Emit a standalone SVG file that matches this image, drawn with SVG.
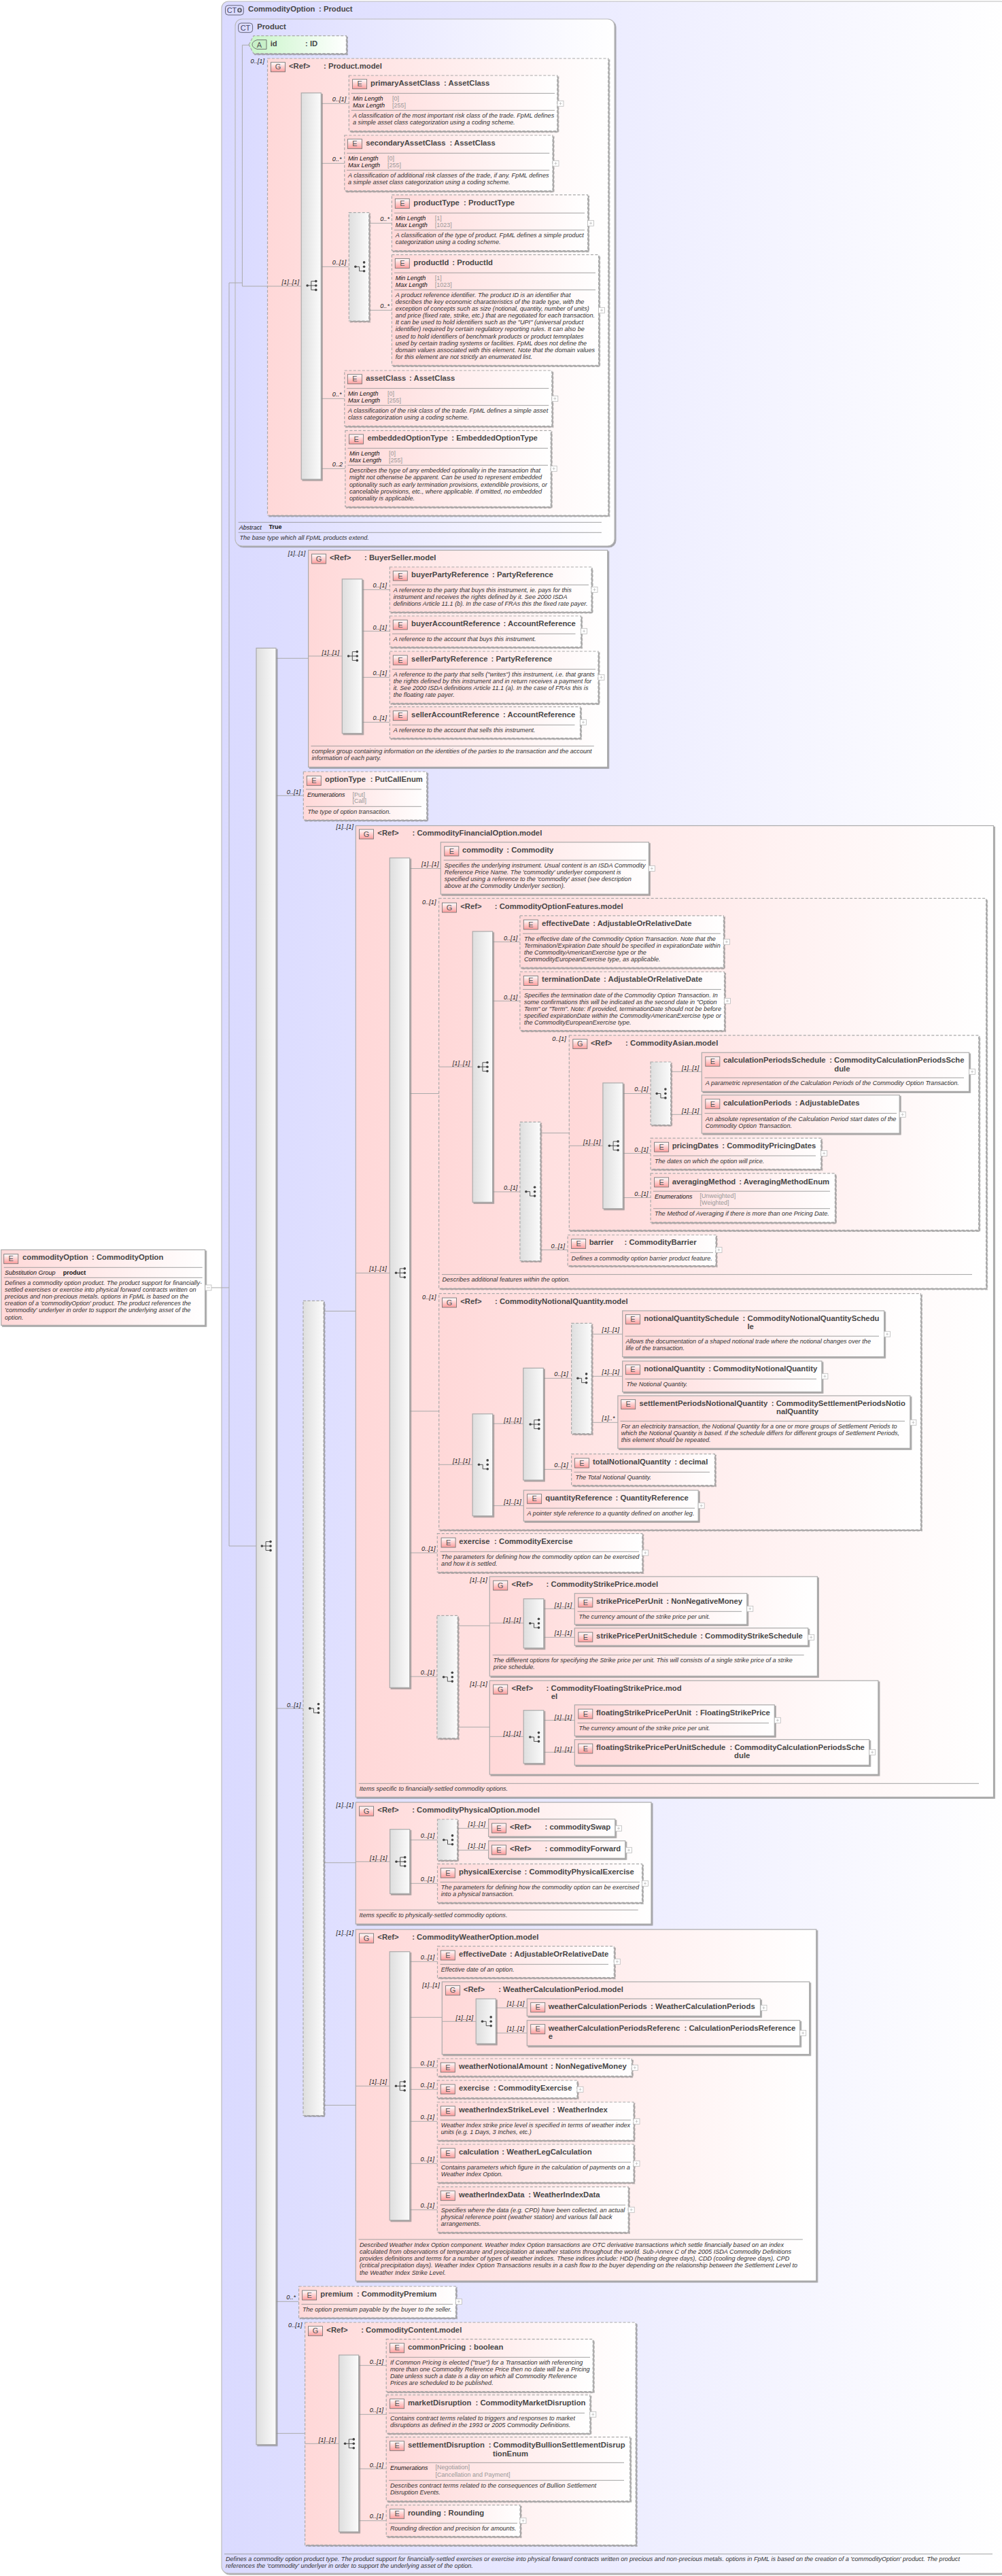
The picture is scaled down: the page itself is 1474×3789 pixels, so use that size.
<svg xmlns="http://www.w3.org/2000/svg" width="1474" height="3789" viewBox="0 0 1474 3789">
<style>
text{font-family:"Liberation Sans",Arial,sans-serif}
.t{font-size:11.3px;font-weight:700;fill:#484848}
.x{font-size:9.1px;font-style:italic;fill:#333}
.k{font-size:9px;font-style:italic;fill:#111}
.v{font-size:9px;fill:#999}
.bv{font-size:9px;font-weight:700;fill:#111}
.c{font-size:9.2px;font-style:italic;fill:#222}
.il{font-size:11px;fill:#555;text-anchor:middle}
.ct{font-size:11px;fill:#446;text-anchor:middle}
.b{fill:url(#pk);stroke:#aaa;stroke-width:1.2;filter:url(#sh)}
.d{fill:url(#pk);stroke:#aaa;stroke-width:1.2;stroke-dasharray:4 2.5;filter:url(#sh)}
.s{fill:url(#gr);stroke:#aaa;stroke-width:1.2;filter:url(#sh)}
.sd{fill:url(#gr);stroke:#aaa;stroke-width:1.2;stroke-dasharray:4 2.5;filter:url(#sh)}
.sep{fill:none;stroke:#999;stroke-width:.9}
.cn{fill:none;stroke:#aaa;stroke-width:1}
.ctb{fill:url(#bl);stroke:#bbb;stroke-width:1.2;filter:url(#sh)}
</style>
<defs>
<linearGradient id="pk"><stop offset="0" stop-color="#ffd8d8"/><stop offset="1" stop-color="#fff"/></linearGradient>
<linearGradient id="bl"><stop offset="0" stop-color="#dadaff"/><stop offset="1" stop-color="#fff"/></linearGradient>
<linearGradient id="gn"><stop offset="0" stop-color="#c8f5c8"/><stop offset="1" stop-color="#fff"/></linearGradient>
<linearGradient id="gr"><stop offset="0" stop-color="#dedede"/><stop offset="1" stop-color="#fbfbfb"/></linearGradient>
<linearGradient id="ig" x2="0" y2="1"><stop offset="0" stop-color="#fff"/><stop offset="1" stop-color="#ff9c9c"/></linearGradient>
<filter id="sh" x="-10%" y="-10%" width="125%" height="125%"><feDropShadow dx="1.8" dy="1.8" stdDeviation=".6" flood-color="#888" flood-opacity=".75"/></filter>
<rect id="ic" width="21" height="14" fill="url(#ig)" stroke="#777" stroke-width=".9"/>
<g id="plus"><rect width="9" height="8" fill="#fff" stroke="#bbb" stroke-width=".8"/><path d="M2.5 4H6.5M4.500 2V6" stroke="#bbb" stroke-width=".8"/></g>
<g id="seq" fill="none" stroke="#444" stroke-width=".9"><path d="M-5.700 0H0M0-6.400V6.400M0-6.400H7M0 0H7M0 6.400H7"/><g fill="#444" stroke="none"><circle cx="-5.700" r="1.800"/><circle cx="7" cy="-6.400" r="1.800"/><circle cx="7" r="1.800"/><circle cx="7" cy="6.400" r="1.800"/></g></g>
<g id="cho" fill="none" stroke="#444" stroke-width=".9"><path d="M-5.700 0H0V6.400H7"/><g fill="#444" stroke="none"><circle cx="-5.700" r="1.800"/><circle cx="7" cy="-6.400" r="1.800"/><circle cx="7" r="1.800"/><circle cx="7" cy="6.400" r="1.800"/></g></g>
</defs>
<g id="outer">
<rect class="ctb" x="326" y="2" width="1156" height="3783" rx="10"/>
<rect x="331.500" y="8" width="26.800" height="14" rx="4" fill="#dcdcff" stroke="#556" stroke-width=".9"/>
<text class="ct" x="341" y="19">CT</text><circle cx="352.500" cy="15" r="3.500" fill="#667"/><path d="M350.500 15H354.500M352.500 13V17" stroke="#fff" stroke-width=".8"/>
<text class="t" x="365" y="17">CommodityOption</text><text class="t" x="469" y="17">: Product</text>
<path class="sep" d="M330 3756.700H1460"/>
<text class="x" x="332" y="3766.700">Defines a commodity option product type. The product support for financially-settled exercises or exercise into physical forward contracts written on precious and non-precious metals. options in FpML is based on the creation of a 'commodityOption' product. The product</text>
<text class="x" x="332" y="3777">references the 'commodity' underlyer in order to support the underlying asset of the option.</text>
</g>
<g id="ct-product">
<rect class="ctb" x="346" y="28" width="558" height="775" rx="10"/>
<rect x="350.600" y="34" width="21" height="13.700" rx="4" fill="#dcdcff" stroke="#556" stroke-width=".9"/>
<text class="ct" x="361" y="45">CT</text>
<text class="t" x="378.200" y="43.300">Product</text>
<path class="sep" d="M350.600 768.300H884.900M350.600 783.300H884.900"/>
<text class="k" x="351.800" y="778.700">Abstract</text><text class="bv" x="395.400" y="778">True</text>
<text class="x" x="352.500" y="793.700">The base type which all FpML products extend.</text>
</g>
<g id="g-Product-model">
<rect class="d" x="393.500" y="86" width="501.300" height="672"/>
<use href="#ic" x="398.500" y="91.700"/><text class="il" x="409" y="102.400">G</text>
<text class="t" x="425" y="100.700">&lt;Ref&gt;</text><text class="t" x="476" y="100.700">: Product.model</text>
</g>
<g id="g-BuyerSeller-model">
<rect class="b" x="453.600" y="809.300" width="440.100" height="319"/>
<use href="#ic" x="458.600" y="815"/><text class="il" x="469" y="825.700">G</text>
<text class="t" x="485" y="823.700">&lt;Ref&gt;</text><text class="t" x="536" y="823.700">: BuyerSeller.model</text>
<path class="sep" d="M457.400 1097.300H873.800"/>
<text class="x" x="458.600" y="1107.700">complex group containing information on the identities of the parties to the transaction and the account</text>
<text class="x" x="458.600" y="1118">information of each party.</text>
</g>
<g id="g-CommodityFinancialOption-model">
<rect class="b" x="523.300" y="1214.500" width="938.200" height="1428.800"/>
<use href="#ic" x="528.500" y="1220"/><text class="il" x="539" y="1230.700">G</text>
<text class="t" x="555.300" y="1229">&lt;Ref&gt;</text><text class="t" x="606.500" y="1229">: CommodityFinancialOption.model</text>
<path class="sep" d="M527.700 2623.300H1440"/>
<text class="x" x="528.800" y="2633.700">Items specific to financially-settled commodity options.</text>
</g>
<g id="g-CommodityOptionFeatures-model">
<rect class="d" x="645.600" y="1321.400" width="805" height="573.600"/>
<use href="#ic" x="650.500" y="1328"/><text class="il" x="661" y="1338.700">G</text>
<text class="t" x="677.200" y="1336.600">&lt;Ref&gt;</text><text class="t" x="727.800" y="1336.600">: CommodityOptionFeatures.model</text>
<path class="sep" d="M650 1874.600H1430"/>
<text class="x" x="650.500" y="1885.300">Describes additional features within the option.</text>
</g>
<g id="g-CommodityAsian-model">
<rect class="d" x="837.300" y="1522.800" width="602.400" height="286.600"/>
<use href="#ic" x="842.800" y="1528.600"/><text class="il" x="853.300" y="1539.300">G</text>
<text class="t" x="868.900" y="1538">&lt;Ref&gt;</text><text class="t" x="920.100" y="1538">: CommodityAsian.model</text>
</g>
<g id="g-CommodityNotionalQuantity-model">
<rect class="d" x="645.700" y="1902.700" width="708.700" height="347.300"/>
<use href="#ic" x="650.500" y="1909"/><text class="il" x="661" y="1919.700">G</text>
<text class="t" x="677.200" y="1917.700">&lt;Ref&gt;</text><text class="t" x="728" y="1917.700">: CommodityNotionalQuantity.model</text>
</g>
<g id="g-CommodityStrikePrice-model">
<rect class="b" x="720.300" y="2319" width="482.100" height="146.300"/>
<use href="#ic" x="725.700" y="2325"/><text class="il" x="736.200" y="2335.700">G</text>
<text class="t" x="752.600" y="2334">&lt;Ref&gt;</text><text class="t" x="803.600" y="2334">: CommodityStrikePrice.model</text>
<path class="sep" d="M724.600 2434.300H1182.700"/>
<text class="x" x="725.700" y="2445">The different options for specifying the Strike price per unit. This will consists of a single strike price of a strike</text>
<text class="x" x="725.700" y="2455">price schedule.</text>
</g>
<g id="g-CommodityFloatingStrikePrice-model">
<rect class="b" x="720.300" y="2472" width="571.600" height="138"/>
<use href="#ic" x="725.700" y="2478"/><text class="il" x="736.200" y="2488.700">G</text>
<text class="t" x="752.600" y="2487">&lt;Ref&gt;</text><text class="t" x="803.600" y="2487">: CommodityFloatingStrikePrice.mod</text>
<text class="t" x="810.800" y="2499.300">el</text>
</g>
<g id="g-CommodityPhysicalOption-model">
<rect class="b" x="523.300" y="2651" width="434.700" height="179"/>
<use href="#ic" x="528.600" y="2657"/><text class="il" x="539.100" y="2667.700">G</text>
<text class="t" x="555.300" y="2665.700">&lt;Ref&gt;</text><text class="t" x="606.200" y="2665.700">: CommodityPhysicalOption.model</text>
<path class="sep" d="M527.600 2809.300H938.700"/>
<text class="x" x="528.600" y="2820">Items specific to physically-settled commodity options.</text>
</g>
<g id="g-CommodityWeatherOption-model">
<rect class="b" x="523.300" y="2838" width="677.500" height="517"/>
<use href="#ic" x="528.600" y="2844"/><text class="il" x="539.100" y="2854.700">G</text>
<text class="t" x="555.300" y="2852.700">&lt;Ref&gt;</text><text class="t" x="606.200" y="2852.700">: CommodityWeatherOption.model</text>
<path class="sep" d="M527.500 3294H1180.900"/>
<text class="x" x="529" y="3305">Described Weather Index Option component. Weather Index Option transactions are OTC derivative transactions which settle financially based on an index</text>
<text class="x" x="529" y="3315">calculated from observations of temperature and precipitation at weather stations throughout the world. Sub-Annex C of the 2005 ISDA Commodity Definitions</text>
<text class="x" x="529" y="3325.300">provides definitions and terms for a number of types of weather indices. These indices include: HDD (heating degree days), CDD (cooling degree days), CPD</text>
<text class="x" x="529" y="3335.400">(critical precipitation days). Weather Index Option Transactions results in a cash flow to the buyer depending on the relationship between the Settlement Level to</text>
<text class="x" x="529" y="3345.500">the Weather Index Strike Level.</text>
</g>
<g id="g-WeatherCalculationPeriod-model">
<rect class="b" x="650.300" y="2915" width="540.400" height="106.700"/>
<use href="#ic" x="655.600" y="2920.700"/><text class="il" x="666.100" y="2931.400">G</text>
<text class="t" x="681.800" y="2929.700">&lt;Ref&gt;</text><text class="t" x="733.200" y="2929.700">: WeatherCalculationPeriod.model</text>
</g>
<g id="g-CommodityContent-model">
<rect class="d" x="448.600" y="3416" width="486.600" height="327.300"/>
<use href="#ic" x="453.500" y="3421.700"/><text class="il" x="464" y="3432.400">G</text>
<text class="t" x="480.300" y="3431">&lt;Ref&gt;</text><text class="t" x="531.200" y="3431">: CommodityContent.model</text>
</g>
<g id="connectors">
<path class="cn" d="M301.700 1894H337M337 416V2274H377M337 416H356.400M356.400 66.300V421M356.400 66.300H366M356.400 421H443.200
M472.300 152.300H513.300M472.300 240.300H506.800M472.300 392.300H513.300M472.300 586.300H506.800M472.300 689.300H507.900M542.700 328.300H576.400M542.700 456.300H576.400
M405.700 968.300H453.600M453.600 965H503.300M532.800 867.300H573.400M532.800 928.300H573.400M532.800 996.300H573.400M532.800 1062.300H573.400
M405.700 1170.300H446.300M405.700 2512.900H446M405.700 3385.300H439.600M405 3579.300H448.600M448.600 3594.300H498.600M527.600 3479.300H568.200M527.600 3551.300H568.200M527.600 3631.300H568.200M527.600 3707.700H568.200
M476 1928.500H523.300M476 2739.800H523.300M476 3096.500H523.300
M523.300 1872.500H573.300M602.700 1277.500H648.300M602.700 1608.500H645.600M602.700 2075.700H645.700M602.700 2284H643.300M602.700 2466H642.900
M645.600 1569.200H695.200M724.600 1385.300H764.900M724.600 1472.300H764.900M724.600 1753H764.900M794.800 1666.500H837.300M794.800 1838.400H835.100M837.300 1685.300H886.900M916.300 1608.500H957.100M916.300 1696.400H957.100M916.300 1761.600H957.100M986.600 1576.300H1032.300M986.600 1639.300H1032.300
M645.700 2154.300H695.100M724.700 2094H769.800M724.700 2214.700H770.300M799.400 2027.300H840.600M799.400 2161.300H840.600M870.100 1962.300H915.700M870.100 2024.300H915.700M870.100 2092.300H908.900
M673.100 2391.300H720.300M673.100 2540.300H720.300M720.300 2387.300H770.200M720.300 2554.300H770.200M799.800 2366.300H845.300M799.800 2408.300H845.300M799.800 2530.300H845.300M799.800 2577.300H845.300
M523.300 2738.300H573.700M602.800 2706.300H643.500M602.800 2770.300H643.500M672.600 2689.300H718.600M672.600 2721.300H718.600
M523.300 3068.300H573.200M602.800 2885.300H643.500M602.800 2967.300H650.300M602.800 3041.300H643.300M602.800 3073.300H643.300M602.800 3120.300H643.300M602.800 3182.300H643.300M602.800 3250.300H643.300M650.300 2973.300H700.200M729.300 2953.300H775.300M729.300 2990.300H775.300"/>
<text class="c" x="368.600" y="92.700">0..[1]</text>
<text class="c" x="414.500" y="418">[1]..[1]</text>
<text class="c" x="488.800" y="149">0..[1]</text>
<text class="c" x="488.800" y="237">0..*</text>
<text class="c" x="488.800" y="389">0..[1]</text>
<text class="c" x="559.200" y="325">0..*</text>
<text class="c" x="559.200" y="453.300">0..*</text>
<text class="c" x="488.800" y="583">0..*</text>
<text class="c" x="488.800" y="686">0..2</text>
<text class="c" x="423.700" y="816.700">[1]..[1]</text>
<text class="c" x="473.500" y="962.700">[1]..[1]</text>
<text class="c" x="548.500" y="864">0..[1]</text>
<text class="c" x="548.500" y="926">0..[1]</text>
<text class="c" x="548.500" y="993">0..[1]</text>
<text class="c" x="548.500" y="1059.300">0..[1]</text>
<text class="c" x="421.800" y="1167.700">0..[1]</text>
<text class="c" x="494.500" y="1219.300">[1]..[1]</text>
<text class="c" x="422" y="2510.500">0..[1]</text>
<text class="c" x="543.300" y="1869.300">[1]..[1]</text>
<text class="c" x="620" y="1273.700">[1]..[1]</text>
<text class="c" x="621" y="1329.500">0..[1]</text>
<text class="c" x="665.800" y="1567">[1]..[1]</text>
<text class="c" x="740.900" y="1382.600">0..[1]</text>
<text class="c" x="740.900" y="1469.600">0..[1]</text>
<text class="c" x="740.900" y="1750">0..[1]</text>
<text class="c" x="812.300" y="1530.800">0..[1]</text>
<text class="c" x="858" y="1682.600">[1]..[1]</text>
<text class="c" x="933.200" y="1605.400">0..[1]</text>
<text class="c" x="1002.900" y="1573.700">[1]..[1]</text>
<text class="c" x="1002.900" y="1636.600">[1]..[1]</text>
<text class="c" x="933.200" y="1693.800">0..[1]</text>
<text class="c" x="933.200" y="1759">0..[1]</text>
<text class="c" x="810.600" y="1835.700">0..[1]</text>
<text class="c" x="621" y="1910.700">0..[1]</text>
<text class="c" x="666" y="2152.300">[1]..[1]</text>
<text class="c" x="741.200" y="2092">[1]..[1]</text>
<text class="c" x="815.300" y="2024">0..[1]</text>
<text class="c" x="885.600" y="1959.300">[1]..[1]</text>
<text class="c" x="885.600" y="2021.300">[1]..[1]</text>
<text class="c" x="885.600" y="2089.300">[1]..*</text>
<text class="c" x="815.300" y="2158.300">0..[1]</text>
<text class="c" x="741.200" y="2212">[1]..[1]</text>
<text class="c" x="620" y="2281">0..[1]</text>
<text class="c" x="618.800" y="2463.300">0..[1]</text>
<text class="c" x="691.200" y="2327">[1]..[1]</text>
<text class="c" x="740.600" y="2385.700">[1]..[1]</text>
<text class="c" x="815.700" y="2364">[1]..[1]</text>
<text class="c" x="815.700" y="2405.300">[1]..[1]</text>
<text class="c" x="691.200" y="2480">[1]..[1]</text>
<text class="c" x="740.600" y="2552.700">[1]..[1]</text>
<text class="c" x="815.700" y="2528.700">[1]..[1]</text>
<text class="c" x="815.700" y="2575.700">[1]..[1]</text>
<text class="c" x="494.500" y="2658.300">[1]..[1]</text>
<text class="c" x="544.100" y="2736">[1]..[1]</text>
<text class="c" x="618.800" y="2703.300">0..[1]</text>
<text class="c" x="688.600" y="2686.300">[1]..[1]</text>
<text class="c" x="688.600" y="2718.300">[1]..[1]</text>
<text class="c" x="618.800" y="2767.300">0..[1]</text>
<text class="c" x="494.500" y="2845.700">[1]..[1]</text>
<text class="c" x="543.600" y="3065">[1]..[1]</text>
<text class="c" x="618.800" y="2882.300">0..[1]</text>
<text class="c" x="621.200" y="2922.700">[1]..[1]</text>
<text class="c" x="670.600" y="2970.700">[1]..[1]</text>
<text class="c" x="745.800" y="2950">[1]..[1]</text>
<text class="c" x="745.800" y="2987.300">[1]..[1]</text>
<text class="c" x="618.500" y="3038.300">0..[1]</text>
<text class="c" x="618.500" y="3070">0..[1]</text>
<text class="c" x="618.500" y="3117.300">0..[1]</text>
<text class="c" x="618.500" y="3179">0..[1]</text>
<text class="c" x="618.500" y="3247">0..[1]</text>
<text class="c" x="421.300" y="3382.300">0..*</text>
<text class="c" x="424" y="3423.300">0..[1]</text>
<text class="c" x="468.700" y="3591.700">[1]..[1]</text>
<text class="c" x="543.700" y="3476.700">0..[1]</text>
<text class="c" x="543.700" y="3548.300">0..[1]</text>
<text class="c" x="543.700" y="3628.700">0..[1]</text>
<text class="c" x="543.700" y="3704.300">0..[1]</text>
</g>
<g id="compositors">
<rect class="s" x="377" y="953.300" width="29" height="2642.400"/><use href="#seq" x="391" y="2274"/>
<rect class="sd" x="446" y="1913.400" width="30" height="1198.100"/><use href="#cho" x="461.500" y="2512.900"/>
<rect class="s" x="443.200" y="136.700" width="29.100" height="568.300"/><use href="#seq" x="457.800" y="420"/>
<rect class="sd" x="513.300" y="312.700" width="29.400" height="159.300"/><use href="#cho" x="528.600" y="392.300"/>
<rect class="s" x="503.300" y="851.700" width="29.500" height="227"/><use href="#seq" x="518.300" y="965"/>
<rect class="s" x="573.300" y="1261.900" width="29.400" height="1220.400"/><use href="#seq" x="588.300" y="1872.300"/>
<rect class="s" x="695.200" y="1370" width="29.400" height="398.300"/><use href="#seq" x="709.900" y="1569.200"/>
<rect class="sd" x="764.900" y="1650.400" width="29.900" height="204.100"/><use href="#cho" x="779.600" y="1752.700"/>
<rect class="s" x="886.900" y="1592.900" width="29.400" height="184.800"/><use href="#seq" x="902.100" y="1685.300"/>
<rect class="sd" x="957.100" y="1562" width="29.500" height="92.500"/><use href="#cho" x="971.900" y="1608.500"/>
<rect class="s" x="695.100" y="2079.700" width="29.600" height="150"/><use href="#cho" x="710.200" y="2154.300"/>
<rect class="s" x="769.800" y="2012.300" width="29.600" height="164.700"/><use href="#seq" x="785.800" y="2095"/>
<rect class="sd" x="840.600" y="1946.300" width="29.500" height="162.400"/><use href="#cho" x="855.600" y="2027.300"/>
<rect class="sd" x="642.900" y="2376.300" width="30.200" height="180.400"/><use href="#cho" x="658.300" y="2466.700"/>
<rect class="s" x="770.200" y="2351.700" width="29.600" height="72.300"/><use href="#cho" x="785.500" y="2387.700"/>
<rect class="s" x="770.200" y="2515.700" width="29.600" height="78"/><use href="#cho" x="785.500" y="2555"/>
<rect class="s" x="573.700" y="2690.700" width="29.100" height="94.600"/><use href="#seq" x="588.700" y="2738.300"/>
<rect class="sd" x="643.500" y="2676" width="29.100" height="60"/><use href="#cho" x="658.500" y="2706.300"/>
<rect class="s" x="573.200" y="2870.700" width="29.600" height="395"/><use href="#seq" x="588.200" y="3068.300"/>
<rect class="s" x="700.200" y="2940" width="29.100" height="66"/><use href="#cho" x="715.200" y="2973.300"/>
<rect class="s" x="498.600" y="3464" width="29" height="260"/><use href="#seq" x="513.300" y="3594.300"/>
</g>
<g id="a-id">
<path d="M366 65.700L373 52.700H509.400V78.700H373Z" fill="url(#gn)" stroke="#aaa" stroke-width="1.200" stroke-dasharray="4 2.500" filter="url(#sh)"/>
<path d="M392 58.700V72.300H378Q371 70 371 65.500Q371 61 378 58.700Z" fill="#c8f0c8" stroke="#666" stroke-width=".9"/>
<text class="il" x="381.500" y="69.700">A</text>
<text class="t" x="397.700" y="67.700">id</text><text class="t" x="449" y="67.700">: ID</text>
</g>
<g id="e-commodityOption">
<rect class="b" x="1.700" y="1838.300" width="300" height="111"/>
<use href="#ic" x="5.700" y="1844.700"/><text class="il" x="16.200" y="1855.400">E</text>
<text class="t" x="33" y="1853">commodityOption</text><text class="t" x="135" y="1853">: CommodityOption</text>
<path class="sep" d="M5.700 1864.300H297.700M5.700 1879.300H297.700"/>
<text class="k" x="7" y="1875">Substitution Group</text><text class="bv" x="92.700" y="1874.500">product</text>
<text class="x" x="7" y="1890">Defines a commodity option product. The product support for financially-</text>
<text class="x" x="7" y="1900">settled exercises or exercise into physical forward contracts written on</text>
<text class="x" x="7" y="1910">precious and non-precious metals. options in FpML is based on the</text>
<text class="x" x="7" y="1920">creation of a 'commodityOption' product. The product references the</text>
<text class="x" x="7" y="1930.300">'commodity' underlyer in order to support the underlying asset of the</text>
<text class="x" x="7" y="1940.500">option.</text>
<rect x="302" y="1890" width="9" height="8" fill="#fff" stroke="#bbb" stroke-width=".8"/><path d="M304 1894H309" stroke="#bbb" stroke-width=".8"/>
</g>
<g id="e-primaryAssetClass">
<rect class="d" x="513.300" y="111" width="306.500" height="81.700"/>
<use href="#ic" x="518.600" y="116.700"/><text class="il" x="529.100" y="127.400">E</text>
<text class="t" x="545" y="126">primaryAssetClass</text><text class="t" x="653" y="126">: AssetClass</text>
<path class="sep" d="M516.700 137.300H816M516.700 162.300H816"/>
<text class="k" x="519" y="148">Min Length</text><text class="v" x="577" y="148">[0]</text>
<text class="k" x="519" y="158">Max Length</text><text class="v" x="577" y="158">[255]</text>
<text class="x" x="519" y="172.700">A classification of the most important risk class of the trade. FpML defines</text>
<text class="x" x="519" y="183">a simple asset class categorization using a coding scheme.</text>
<use href="#plus" x="820" y="148.300"/>
</g>
<g id="e-secondaryAssetClass">
<rect class="d" x="506.800" y="199" width="306.200" height="81.700"/>
<use href="#ic" x="511.400" y="204.700"/><text class="il" x="521.900" y="215.400">E</text>
<text class="t" x="538.200" y="214">secondaryAssetClass</text><text class="t" x="661.500" y="214">: AssetClass</text>
<path class="sep" d="M510 225.300H808.300M510 250.300H808.300"/>
<text class="k" x="512" y="236">Min Length</text><text class="v" x="570" y="236">[0]</text>
<text class="k" x="512" y="246">Max Length</text><text class="v" x="570" y="246">[255]</text>
<text class="x" x="512" y="260.700">A classification of additional risk classes of the trade, if any. FpML defines</text>
<text class="x" x="512" y="271">a simple asset class categorization using a coding scheme.</text>
<use href="#plus" x="813" y="236.300"/>
</g>
<g id="e-productType">
<rect class="d" x="576.400" y="286.700" width="288.200" height="82"/>
<use href="#ic" x="581.300" y="292.400"/><text class="il" x="591.800" y="303.100">E</text>
<text class="t" x="608.300" y="302">productType</text><text class="t" x="682" y="302">: ProductType</text>
<path class="sep" d="M580 313.300H860M580 338.300H860"/>
<text class="k" x="581.800" y="324">Min Length</text><text class="v" x="639.700" y="324">[1]</text>
<text class="k" x="581.800" y="334">Max Length</text><text class="v" x="639.700" y="334">[1023]</text>
<text class="x" x="581.800" y="348.700">A classification of the type of product. FpML defines a simple product</text>
<text class="x" x="581.800" y="359">categorization using a coding scheme.</text>
<use href="#plus" x="864.600" y="324.300"/>
</g>
<g id="e-productId">
<rect class="d" x="576.400" y="374.700" width="304.200" height="162.600"/>
<use href="#ic" x="581.300" y="380.400"/><text class="il" x="591.800" y="391.100">E</text>
<text class="t" x="608.300" y="390">productId</text><text class="t" x="665.300" y="390">: ProductId</text>
<path class="sep" d="M580 401.300H876M580 426.300H876"/>
<text class="k" x="581.800" y="412">Min Length</text><text class="v" x="639.700" y="412">[1]</text>
<text class="k" x="581.800" y="422">Max Length</text><text class="v" x="639.700" y="422">[1023]</text>
<text class="x" x="581.800" y="436.700">A product reference identifier. The product ID is an identifier that</text>
<text class="x" x="581.800" y="446.800">describes the key economic characteristics of the trade type, with the</text>
<text class="x" x="581.800" y="457">exception of concepts such as size (notional, quantity, number of units)</text>
<text class="x" x="581.800" y="467">and price (fixed rate, strike, etc.) that are negotiated for each transaction.</text>
<text class="x" x="581.800" y="477.200">It can be used to hold identifiers such as the "UPI" (universal product</text>
<text class="x" x="581.800" y="487.300">identifier) required by certain regulatory reporting rules. It can also be</text>
<text class="x" x="581.800" y="497.500">used to hold identifiers of benchmark products or product temnplates</text>
<text class="x" x="581.800" y="507.600">used by certain trading systems or facilities. FpML does not define the</text>
<text class="x" x="581.800" y="517.800">domain values associated with this element. Note that the domain values</text>
<text class="x" x="581.800" y="527.900">for this element are not strictly an enumerated list.</text>
<use href="#plus" x="880.600" y="452.300"/>
</g>
<g id="e-assetClass">
<rect class="d" x="506.800" y="545" width="305" height="81.700"/>
<use href="#ic" x="511.400" y="550.700"/><text class="il" x="521.900" y="561.400">E</text>
<text class="t" x="538.200" y="560">assetClass</text><text class="t" x="602" y="560">: AssetClass</text>
<path class="sep" d="M510 571.300H807.300M510 596.300H807.300"/>
<text class="k" x="512" y="582">Min Length</text><text class="v" x="570" y="582">[0]</text>
<text class="k" x="512" y="592">Max Length</text><text class="v" x="570" y="592">[255]</text>
<text class="x" x="512" y="606.700">A classification of the risk class of the trade. FpML defines a simple asset</text>
<text class="x" x="512" y="617">class categorization using a coding scheme.</text>
<use href="#plus" x="811.800" y="582.300"/>
</g>
<g id="e-embeddedOptionType">
<rect class="d" x="507.900" y="633.300" width="302.300" height="112"/>
<use href="#ic" x="513.600" y="639"/><text class="il" x="524.100" y="649.700">E</text>
<text class="t" x="540.400" y="648">embeddedOptionType</text><text class="t" x="664.300" y="648">: EmbeddedOptionType</text>
<path class="sep" d="M511.500 659.300H806M511.500 684.300H806"/>
<text class="k" x="514" y="670">Min Length</text><text class="v" x="572" y="670">[0]</text>
<text class="k" x="514" y="680">Max Length</text><text class="v" x="572" y="680">[255]</text>
<text class="x" x="514" y="695.300">Describes the type of any embedded optionality in the transaction that</text>
<text class="x" x="514" y="705.400">might not otherwise be apparent. Can be used to represent embedded</text>
<text class="x" x="514" y="715.500">optionality such as early termination provisions, extendible provisions, or</text>
<text class="x" x="514" y="725.600">cancelable provisions, etc., where applicable. If omitted, no embedded</text>
<text class="x" x="514" y="735.700">optionality is applicable.</text>
<use href="#plus" x="810.200" y="685.300"/>
</g>
<g id="e-buyerPartyReference">
<rect class="d" x="573.400" y="834" width="296.600" height="66"/>
<use href="#ic" x="578.300" y="840"/><text class="il" x="588.800" y="850.700">E</text>
<text class="t" x="605.100" y="848.700">buyerPartyReference</text><text class="t" x="724" y="848.700">: PartyReference</text>
<path class="sep" d="M577 860.300H866"/>
<text class="x" x="578.700" y="871">A reference to the party that buys this instrument, ie. pays for this</text>
<text class="x" x="578.700" y="881">instrument and receives the rights defined by it. See 2000 ISDA</text>
<text class="x" x="578.700" y="891">definitions Article 11.1 (b). In the case of FRAs this the fixed rate payer.</text>
<use href="#plus" x="870" y="863.300"/>
</g>
<g id="e-buyerAccountReference">
<rect class="d" x="573.400" y="906" width="281.200" height="45.700"/>
<use href="#ic" x="578.300" y="912"/><text class="il" x="588.800" y="922.700">E</text>
<text class="t" x="605.100" y="921">buyerAccountReference</text><text class="t" x="740.600" y="921">: AccountReference</text>
<path class="sep" d="M577 932.300H846.500"/>
<text class="x" x="578.700" y="942.700">A reference to the account that buys this instrument.</text>
<use href="#plus" x="854.600" y="924.300"/>
</g>
<g id="e-sellerPartyReference">
<rect class="d" x="573.400" y="958" width="306.600" height="76.300"/>
<use href="#ic" x="578.300" y="964"/><text class="il" x="588.800" y="974.700">E</text>
<text class="t" x="605.100" y="972.700">sellerPartyReference</text><text class="t" x="722.600" y="972.700">: PartyReference</text>
<path class="sep" d="M577 984.300H876"/>
<text class="x" x="578.700" y="995">A reference to the party that sells ("writes") this instrument, i.e. that grants</text>
<text class="x" x="578.700" y="1005">the rights defined by this instrument and in return receives a payment for</text>
<text class="x" x="578.700" y="1015.300">it. See 2000 ISDA definitions Article 11.1 (a). In the case of FRAs this is</text>
<text class="x" x="578.700" y="1025.400">the floating rate payer.</text>
<use href="#plus" x="880" y="992.300"/>
</g>
<g id="e-sellerAccountReference">
<rect class="d" x="573.400" y="1039.700" width="280.100" height="46"/>
<use href="#ic" x="578.300" y="1045.700"/><text class="il" x="588.800" y="1056.400">E</text>
<text class="t" x="605.100" y="1054.700">sellerAccountReference</text><text class="t" x="740" y="1054.700">: AccountReference</text>
<path class="sep" d="M577 1066.300H845.500"/>
<text class="x" x="578.700" y="1076.700">A reference to the account that sells this instrument.</text>
<use href="#plus" x="853.500" y="1058.300"/>
</g>
<g id="e-optionType">
<rect class="d" x="446.300" y="1135" width="181.400" height="71"/>
<use href="#ic" x="451.300" y="1141.300"/><text class="il" x="461.800" y="1152">E</text>
<text class="t" x="478" y="1150">optionType</text><text class="t" x="544.700" y="1150">: PutCallEnum</text>
<path class="sep" d="M450 1161H620M450 1186.300H620"/>
<text class="k" x="452" y="1172">Enumerations</text><text class="v" x="518.600" y="1171.500">[Put]</text><text class="v" x="518.600" y="1181.300">[Call]</text>
<text class="x" x="452.400" y="1196.700">The type of option transaction.</text>
</g>
<g id="e-commodity">
<rect class="b" x="648.300" y="1238.800" width="306.100" height="76.400"/>
<use href="#ic" x="653.800" y="1245"/><text class="il" x="664.300" y="1255.700">E</text>
<text class="t" x="680" y="1254">commodity</text><text class="t" x="745.300" y="1254">: Commodity</text>
<path class="sep" d="M652.700 1265.200H950.600"/>
<text class="x" x="653.800" y="1275.900">Specifies the underlying instrument. Usual content is an ISDA Commodity</text>
<text class="x" x="653.800" y="1286">Reference Price Name. The 'commodity' underlyer component is</text>
<text class="x" x="653.800" y="1296.100">specified using a reference to the 'commodity' asset (see description</text>
<text class="x" x="653.800" y="1306.200">above at the Commodity Underlyer section).</text>
<use href="#plus" x="954.400" y="1273.500"/>
</g>
<g id="e-effectiveDate">
<rect class="d" x="764.900" y="1346.900" width="299.500" height="76.300"/>
<use href="#ic" x="770.300" y="1353"/><text class="il" x="780.800" y="1363.700">E</text>
<text class="t" x="797" y="1362">effectiveDate</text><text class="t" x="872.200" y="1362">: AdjustableOrRelativeDate</text>
<path class="sep" d="M769 1373.200H1060"/>
<text class="x" x="770.900" y="1384">The effective date of the Commodity Option Transaction. Note that the</text>
<text class="x" x="770.900" y="1394.100">Termination/Expiration Date should be specified in expirationDate within</text>
<text class="x" x="770.900" y="1404.300">the CommodityAmericanExercise type or the</text>
<text class="x" x="770.900" y="1414.400">CommodityEuropeanExercise type, as applicable.</text>
<use href="#plus" x="1064.400" y="1381.300"/>
</g>
<g id="e-terminationDate">
<rect class="d" x="764.900" y="1429.500" width="300.600" height="86.100"/>
<use href="#ic" x="770.300" y="1435.500"/><text class="il" x="780.800" y="1446.200">E</text>
<text class="t" x="797" y="1444.200">terminationDate</text><text class="t" x="888" y="1444.200">: AdjustableOrRelativeDate</text>
<path class="sep" d="M769 1455.400H1061"/>
<text class="x" x="770.900" y="1466.500">Specifies the termination date of the Commodity Option Transaction. In</text>
<text class="x" x="770.900" y="1476.600">some confirmations this will be indicated as the second date in "Option</text>
<text class="x" x="770.900" y="1486.700">Term" or "Term". Note: If provided, terminationDate should not be before</text>
<text class="x" x="770.900" y="1496.800">specified expirationDate within the CommodityAmericanExercise type or</text>
<text class="x" x="770.900" y="1506.900">the CommodityEuropeanExercise type.</text>
<use href="#plus" x="1065.500" y="1468.300"/>
</g>
<g id="e-calculationPeriodsSchedule">
<rect class="b" x="1032.300" y="1548.200" width="393.300" height="57.200"/>
<use href="#ic" x="1037.800" y="1554.300"/><text class="il" x="1048.300" y="1565">E</text>
<text class="t" x="1063.900" y="1563.400">calculationPeriodsSchedule</text><text class="t" x="1220.200" y="1563.400">: CommodityCalculationPeriodsSche</text>
<text class="t" x="1227.300" y="1575.900">dule</text>
<path class="sep" d="M1036.500 1585.300H1418"/>
<text class="x" x="1037.800" y="1596.400">A parametric representation of the Calculation Periods of the Commodity Option Transaction.</text>
<use href="#plus" x="1425.600" y="1572.300"/>
</g>
<g id="e-calculationPeriods">
<rect class="b" x="1032.300" y="1610.700" width="290.900" height="56.300"/>
<use href="#ic" x="1037.800" y="1616.800"/><text class="il" x="1048.300" y="1627.500">E</text>
<text class="t" x="1063.900" y="1626.300">calculationPeriods</text><text class="t" x="1169.600" y="1626.300">: AdjustableDates</text>
<path class="sep" d="M1036.500 1637.500H1319"/>
<text class="x" x="1037.800" y="1648.700">An absolute representation of the Calculation Period start dates of the</text>
<text class="x" x="1037.800" y="1658.800">Commodity Option Transaction.</text>
<use href="#plus" x="1323.200" y="1635.300"/>
</g>
<g id="e-pricingDates">
<rect class="d" x="957.100" y="1674.100" width="250.600" height="45.500"/>
<use href="#ic" x="962.600" y="1680.200"/><text class="il" x="973.100" y="1690.900">E</text>
<text class="t" x="988.700" y="1689.300">pricingDates</text><text class="t" x="1062.300" y="1689.300">: CommodityPricingDates</text>
<path class="sep" d="M961 1700H1200"/>
<text class="x" x="963" y="1711.200">The dates on which the option will price.</text>
<use href="#plus" x="1207.700" y="1692.400"/>
</g>
<g id="e-averagingMethod">
<rect class="d" x="957.100" y="1725.900" width="271.300" height="71.900"/>
<use href="#ic" x="962.600" y="1732"/><text class="il" x="973.100" y="1742.700">E</text>
<text class="t" x="988.700" y="1741.500">averagingMethod</text><text class="t" x="1087.300" y="1741.500">: AveragingMethodEnum</text>
<path class="sep" d="M961 1752.200H1221M961 1777.700H1221"/>
<text class="k" x="963" y="1763">Enumerations</text><text class="v" x="1029.600" y="1762">[Unweighted]</text><text class="v" x="1029.600" y="1772">[Weighted]</text>
<text class="x" x="963" y="1788">The Method of Averaging if there is more than one Pricing Date.</text>
</g>
<g id="e-barrier">
<rect class="d" x="835.100" y="1816.500" width="217.900" height="45.100"/>
<use href="#ic" x="840.600" y="1822.500"/><text class="il" x="851.100" y="1833.200">E</text>
<text class="t" x="866.700" y="1831.300">barrier</text><text class="t" x="918.500" y="1831.300">: CommodityBarrier</text>
<path class="sep" d="M839 1842.400H1049"/>
<text class="x" x="840.600" y="1853.600">Defines a commodity option barrier product feature.</text>
<use href="#plus" x="1053" y="1834.400"/>
</g>
<g id="e-notionalQuantitySchedule">
<rect class="b" x="915.700" y="1928" width="384.900" height="67.700"/>
<use href="#ic" x="920.500" y="1933.700"/><text class="il" x="931" y="1944.400">E</text>
<text class="t" x="947.200" y="1942.700">notionalQuantitySchedule</text><text class="t" x="1092.600" y="1942.700">: CommodityNotionalQuantitySchedu</text>
<text class="t" x="1099.400" y="1955.300">le</text>
<path class="sep" d="M919.500 1965.300H1293"/>
<text class="x" x="920.500" y="1975.700">Allows the documentation of a shaped notional trade where the notional changes over the</text>
<text class="x" x="920.500" y="1985.800">life of the transaction.</text>
<use href="#plus" x="1300.600" y="1958.300"/>
</g>
<g id="e-notionalQuantity">
<rect class="b" x="915.700" y="2002" width="293.200" height="45.300"/>
<use href="#ic" x="920.500" y="2007.700"/><text class="il" x="931" y="2018.400">E</text>
<text class="t" x="947.200" y="2016.700">notionalQuantity</text><text class="t" x="1042.200" y="2016.700">: CommodityNotionalQuantity</text>
<path class="sep" d="M919.500 2028.300H1201"/>
<text class="x" x="921.500" y="2038.700">The Notional Quantity.</text>
<use href="#plus" x="1208.900" y="2020.300"/>
</g>
<g id="e-settlementPeriodsNotionalQuantity">
<rect class="b" x="908.900" y="2053" width="430" height="77.300"/>
<use href="#ic" x="913.700" y="2058.700"/><text class="il" x="924.200" y="2069.400">E</text>
<text class="t" x="940.400" y="2067.700">settlementPeriodsNotionalQuantity</text><text class="t" x="1134.800" y="2067.700">: CommoditySettlementPeriodsNotio</text>
<text class="t" x="1142" y="2080.300">nalQuantity</text>
<path class="sep" d="M912.500 2090.300H1331"/>
<text class="x" x="913.700" y="2100.700">For an electricity transaction, the Notional Quantity for a one or more groups of Settlement Periods to</text>
<text class="x" x="913.700" y="2110.800">which the Notional Quantity is based. If the schedule differs for different groups of Settlement Periods,</text>
<text class="x" x="913.700" y="2121">this element should be repeated.</text>
<use href="#plus" x="1338.900" y="2088.300"/>
</g>
<g id="e-totalNotionalQuantity">
<rect class="d" x="840.600" y="2138.700" width="210.800" height="46"/>
<use href="#ic" x="845.400" y="2145"/><text class="il" x="855.900" y="2155.700">E</text>
<text class="t" x="872" y="2153.700">totalNotionalQuantity</text><text class="t" x="992.300" y="2153.700">: decimal</text>
<path class="sep" d="M844.500 2165.300H1044"/>
<text class="x" x="846.400" y="2175.700">The Total Notional Quantity.</text>
</g>
<g id="e-quantityReference">
<rect class="b" x="770.300" y="2192" width="256.900" height="45.300"/>
<use href="#ic" x="775.600" y="2197.700"/><text class="il" x="786.100" y="2208.400">E</text>
<text class="t" x="802.300" y="2206.700">quantityReference</text><text class="t" x="905.500" y="2206.700">: QuantityReference</text>
<path class="sep" d="M774 2218.300H1022"/>
<text class="x" x="775.600" y="2229">A pointer style reference to a quantity defined on another leg.</text>
<use href="#plus" x="1027.200" y="2210.700"/>
</g>
<g id="e-exercise">
<rect class="d" x="643.300" y="2255.700" width="301.500" height="56.600"/>
<use href="#ic" x="649.100" y="2262"/><text class="il" x="659.600" y="2272.700">E</text>
<text class="t" x="675.300" y="2270.700">exercise</text><text class="t" x="727.100" y="2270.700">: CommodityExercise</text>
<path class="sep" d="M647.500 2282.300H940"/>
<text class="x" x="649.100" y="2292.700">The parameters for defining how the commodity option can be exercised</text>
<text class="x" x="649.100" y="2302.800">and how it is settled.</text>
<use href="#plus" x="944.800" y="2280"/>
</g>
<g id="e-strikePricePerUnit">
<rect class="b" x="845.300" y="2343.700" width="253.500" height="45.600"/>
<use href="#ic" x="850.800" y="2350"/><text class="il" x="861.300" y="2360.700">E</text>
<text class="t" x="877.100" y="2358.700">strikePricePerUnit</text><text class="t" x="980.300" y="2358.700">: NonNegativeMoney</text>
<path class="sep" d="M849.500 2370.300H1091"/>
<text class="x" x="851.400" y="2381">The currency amount of the strike price per unit.</text>
<use href="#plus" x="1098.800" y="2362.300"/>
</g>
<g id="e-strikePricePerUnitSchedule">
<rect class="b" x="845.300" y="2394.700" width="343.400" height="25.600"/>
<use href="#ic" x="850.800" y="2401"/><text class="il" x="861.300" y="2411.700">E</text>
<text class="t" x="877.100" y="2409.700">strikePricePerUnitSchedule</text><text class="t" x="1030.200" y="2409.700">: CommodityStrikeSchedule</text>
<use href="#plus" x="1188.700" y="2404.300"/>
</g>
<g id="e-floatingStrikePricePerUnit">
<rect class="b" x="845.300" y="2507.700" width="294" height="45.600"/>
<use href="#ic" x="850.800" y="2514"/><text class="il" x="861.300" y="2524.700">E</text>
<text class="t" x="877.100" y="2522.700">floatingStrikePricePerUnit</text><text class="t" x="1023" y="2522.700">: FloatingStrikePrice</text>
<path class="sep" d="M849.500 2534.300H1131"/>
<text class="x" x="851.400" y="2545">The currency amount of the strike price per unit.</text>
<use href="#plus" x="1139.300" y="2526.300"/>
</g>
<g id="e-floatingStrikePricePerUnitSchedule">
<rect class="b" x="845.300" y="2558.700" width="433.400" height="37.600"/>
<use href="#ic" x="850.800" y="2565"/><text class="il" x="861.300" y="2575.700">E</text>
<text class="t" x="877.100" y="2573.700">floatingStrikePricePerUnitSchedule</text><text class="t" x="1073.500" y="2573.700">: CommodityCalculationPeriodsSche</text>
<text class="t" x="1080.100" y="2586.300">dule</text>
<use href="#plus" x="1278.700" y="2573.300"/>
</g>
<g id="e-commoditySwap">
<rect class="b" x="718.600" y="2675.700" width="186.200" height="25.600"/>
<use href="#ic" x="723.500" y="2682"/><text class="il" x="734" y="2692.700">E</text>
<text class="t" x="750.100" y="2690.700">&lt;Ref&gt;</text><text class="t" x="801.500" y="2690.700">: commoditySwap</text>
<use href="#plus" x="905.500" y="2685.300"/>
</g>
<g id="e-commodityForward">
<rect class="b" x="718.600" y="2707.700" width="201.200" height="25.600"/>
<use href="#ic" x="723.500" y="2714"/><text class="il" x="734" y="2724.700">E</text>
<text class="t" x="750.100" y="2722.700">&lt;Ref&gt;</text><text class="t" x="801.500" y="2722.700">: commodityForward</text>
<use href="#plus" x="920.500" y="2717.300"/>
</g>
<g id="e-physicalExercise">
<rect class="d" x="643.500" y="2741.700" width="301" height="56.600"/>
<use href="#ic" x="648.300" y="2748"/><text class="il" x="658.800" y="2758.700">E</text>
<text class="t" x="675" y="2756.700">physicalExercise</text><text class="t" x="771.500" y="2756.700">: CommodityPhysicalExercise</text>
<path class="sep" d="M647.500 2768.300H941"/>
<text class="x" x="648.800" y="2779">The parameters for defining how the commodity option can be exercised</text>
<text class="x" x="648.800" y="2789">into a physical transaction.</text>
<use href="#plus" x="944.500" y="2766.300"/>
</g>
<g id="e-weatherEffectiveDate">
<rect class="d" x="643.500" y="2862.700" width="259.800" height="46"/>
<use href="#ic" x="648.300" y="2869"/><text class="il" x="658.800" y="2879.700">E</text>
<text class="t" x="675" y="2877.700">effectiveDate</text><text class="t" x="750.100" y="2877.700">: AdjustableOrRelativeDate</text>
<path class="sep" d="M647.500 2889.300H895"/>
<text class="x" x="648.800" y="2900">Effective date of an option.</text>
<use href="#plus" x="903.300" y="2881.300"/>
</g>
<g id="e-weatherCalculationPeriods">
<rect class="b" x="775.300" y="2940" width="343.200" height="25.300"/>
<use href="#ic" x="780.700" y="2945.700"/><text class="il" x="791.200" y="2956.400">E</text>
<text class="t" x="806.800" y="2954.700">weatherCalculationPeriods</text><text class="t" x="957.100" y="2954.700">: WeatherCalculationPeriods</text>
<use href="#plus" x="1119" y="2949.300"/>
</g>
<g id="e-weatherCalculationPeriodsReference">
<rect class="b" x="775.300" y="2971.700" width="401.400" height="37.300"/>
<use href="#ic" x="780.700" y="2977.700"/><text class="il" x="791.200" y="2988.400">E</text>
<text class="t" x="806.800" y="2986.700">weatherCalculationPeriodsReferenc</text><text class="t" x="1006.500" y="2986.700">: CalculationPeriodsReference</text>
<text class="t" x="806.800" y="2999.300">e</text>
<use href="#plus" x="1176.700" y="2986.300"/>
</g>
<g id="e-weatherNotionalAmount">
<rect class="d" x="643.300" y="3028" width="286" height="25.700"/>
<use href="#ic" x="648.300" y="3034"/><text class="il" x="658.800" y="3044.700">E</text>
<text class="t" x="674.900" y="3043">weatherNotionalAmount</text><text class="t" x="810" y="3043">: NonNegativeMoney</text>
<use href="#plus" x="929.300" y="3037.300"/>
</g>
<g id="e-weatherExercise">
<rect class="d" x="643.300" y="3060" width="205.700" height="25.700"/>
<use href="#ic" x="648.300" y="3066"/><text class="il" x="658.800" y="3076.700">E</text>
<text class="t" x="674.900" y="3075">exercise</text><text class="t" x="725.900" y="3075">: CommodityExercise</text>
<use href="#plus" x="849" y="3069.300"/>
</g>
<g id="e-weatherIndexStrikeLevel">
<rect class="d" x="643.300" y="3092" width="288.700" height="56"/>
<use href="#ic" x="648.300" y="3098"/><text class="il" x="658.800" y="3108.700">E</text>
<text class="t" x="674.900" y="3107">weatherIndexStrikeLevel</text><text class="t" x="813.100" y="3107">: WeatherIndex</text>
<path class="sep" d="M647.500 3118.300H928"/>
<text class="x" x="648.800" y="3128.700">Weather Index strike price level is specified in terms of weather index</text>
<text class="x" x="648.800" y="3138.800">units (e.g. 1 Days, 3 Inches, etc.)</text>
<use href="#plus" x="932" y="3116.300"/>
</g>
<g id="e-calculation">
<rect class="d" x="643.300" y="3154" width="288.700" height="56"/>
<use href="#ic" x="648.300" y="3160"/><text class="il" x="658.800" y="3170.700">E</text>
<text class="t" x="674.900" y="3169">calculation</text><text class="t" x="738.300" y="3169">: WeatherLegCalculation</text>
<path class="sep" d="M647.500 3180.300H928"/>
<text class="x" x="648.800" y="3190.700">Contains parameters which figure in the calculation of payments on a</text>
<text class="x" x="648.800" y="3200.800">Weather Index Option.</text>
<use href="#plus" x="932" y="3178.300"/>
</g>
<g id="e-weatherIndexData">
<rect class="d" x="643.300" y="3216.700" width="280.900" height="66.600"/>
<use href="#ic" x="648.300" y="3222.700"/><text class="il" x="658.800" y="3233.400">E</text>
<text class="t" x="674.900" y="3232">weatherIndexData</text><text class="t" x="777.300" y="3232">: WeatherIndexData</text>
<path class="sep" d="M647.500 3243.300H920"/>
<text class="x" x="648.800" y="3254">Specifies where the data (e.g. CPD) have been collected, an actual</text>
<text class="x" x="648.800" y="3264">physical reference point (weather station) and various fall back</text>
<text class="x" x="648.800" y="3274.400">arrangements.</text>
<use href="#plus" x="924.200" y="3246.300"/>
</g>
<g id="e-premium">
<rect class="d" x="439.600" y="3363" width="230.800" height="46"/>
<use href="#ic" x="444.600" y="3369"/><text class="il" x="455.100" y="3379.700">E</text>
<text class="t" x="471.300" y="3378">premium</text><text class="t" x="524.900" y="3378">: CommodityPremium</text>
<path class="sep" d="M443.500 3389.300H666"/>
<text class="x" x="445" y="3400">The option premium payable by the buyer to the seller.</text>
<use href="#plus" x="670.400" y="3381.300"/>
</g>
<g id="e-commonPricing">
<rect class="d" x="568.200" y="3440.700" width="304" height="77"/>
<use href="#ic" x="573.600" y="3446.700"/><text class="il" x="584.100" y="3457.400">E</text>
<text class="t" x="599.900" y="3456">commonPricing</text><text class="t" x="690.100" y="3456">: boolean</text>
<path class="sep" d="M572 3467.300H868"/>
<text class="x" x="574" y="3478">If Common Pricing is elected ("true") for a Transaction with referencing</text>
<text class="x" x="574" y="3488">more than one Commodity Reference Price then no date will be a Pricing</text>
<text class="x" x="574" y="3498">Date unless such a date is a day on which all Commodity Reference</text>
<text class="x" x="574" y="3508.400">Prices are scheduled to be published.</text>
</g>
<g id="e-marketDisruption">
<rect class="d" x="568.200" y="3522.700" width="299.600" height="56.300"/>
<use href="#ic" x="573.600" y="3528.700"/><text class="il" x="584.100" y="3539.400">E</text>
<text class="t" x="599.900" y="3538">marketDisruption</text><text class="t" x="699.500" y="3538">: CommodityMarketDisruption</text>
<path class="sep" d="M572 3549.300H860"/>
<text class="x" x="574" y="3560">Contains contract terms related to triggers and responses to market</text>
<text class="x" x="574" y="3570">disruptions as defined in the 1993 or 2005 Commodity Definitions.</text>
<use href="#plus" x="867.800" y="3547.300"/>
</g>
<g id="e-settlementDisruption">
<rect class="d" x="568.200" y="3584.700" width="358.500" height="94"/>
<use href="#ic" x="573.600" y="3590.700"/><text class="il" x="584.100" y="3601.400">E</text>
<text class="t" x="599.900" y="3600">settlementDisruption</text><text class="t" x="718.700" y="3600">: CommodityBullionSettlementDisrup</text>
<text class="t" x="724.900" y="3612.700">tionEnum</text>
<path class="sep" d="M572 3622.300H918M572 3648.300H918"/>
<text class="k" x="574" y="3632.700">Enumerations</text><text class="v" x="640.500" y="3632">[Negotiation]</text><text class="v" x="640.500" y="3643">[Cancellation and Payment]</text>
<text class="x" x="574" y="3658.700">Describes contract terms related to the consequences of Bullion Settlement</text>
<text class="x" x="574" y="3668.800">Disruption Events.</text>
</g>
<g id="e-rounding">
<rect class="d" x="568.200" y="3684.700" width="196.800" height="46"/>
<use href="#ic" x="573.600" y="3690.700"/><text class="il" x="584.100" y="3701.400">E</text>
<text class="t" x="599.900" y="3700">rounding</text><text class="t" x="652.600" y="3700">: Rounding</text>
<path class="sep" d="M572 3711.300H761"/>
<text class="x" x="574" y="3721.700">Rounding direction and precision for amounts.</text>
<use href="#plus" x="765" y="3703.700"/>
</g>
</svg>
